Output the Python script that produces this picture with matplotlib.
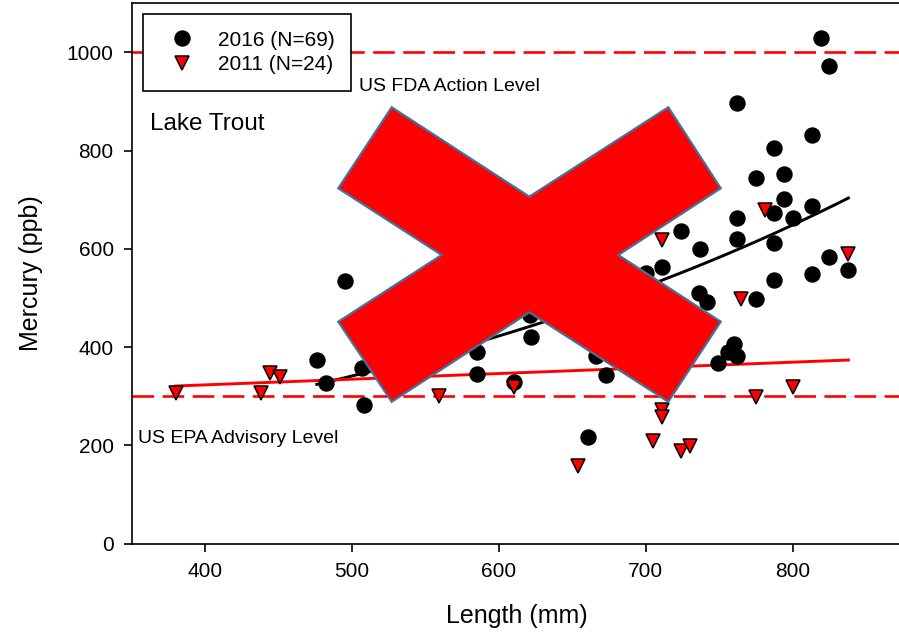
import matplotlib.pyplot as plt
import numpy as np
from matplotlib.patches import Polygon

plt.rcParams['font.family'] = ['Liberation Sans', 'DejaVu Sans']

# Lake trout, total length (mm) vs mercury (ppb)
len_2016 = [476, 482, 495, 507, 508, 585, 585, 610, 621, 622, 661, 666, 673,
            700, 711, 724, 737, 736, 742, 749, 756, 762, 760, 762, 762, 762,
            775, 775, 787, 787, 787, 787, 794, 794, 800, 813, 813, 813, 819,
            825, 825, 838]
hg_2016 = [374, 328, 534, 357, 283, 391, 346, 330, 465, 420, 217, 383, 344,
           551, 564, 637, 600, 510, 493, 368, 391, 382, 406, 898, 663, 620,
           745, 498, 805, 674, 613, 537, 753, 701, 662, 832, 687, 548, 1029,
           972, 584, 557]

len_2011 = [380, 438, 444, 451, 559, 610, 654, 705, 711, 711, 711, 724, 730,
            765, 775, 781, 800, 838]
hg_2011 = [307, 306, 348, 339, 300, 318, 158, 209, 618, 272, 257, 188, 198,
           498, 298, 680, 318, 589]

labels = ['2016 (N=69)', '2011 (N=24)']

# trend lines: 2016 exponential, 2011 linear
exp_a_2016, exp_b_2016 = 117.1, 0.00214
lin_a_2011, lin_b_2011 = 277.1, 0.1155

fda_level = 1000
epa_level = 300

fig = plt.figure(figsize=(8.99, 6.38), dpi=100)
ax = fig.add_axes([0.1465, 0.1478, 0.8577, 0.847])

ax.axhline(fda_level, color='#ff0000', lw=1.9, ls=(0, (8.2, 3.2)), zorder=1)
ax.axhline(epa_level, color='#ff0000', lw=1.9, ls=(0, (8.2, 3.2)), zorder=1)

x16 = np.linspace(min(len_2016), max(len_2016), 200)
ax.plot(x16, exp_a_2016 * np.exp(exp_b_2016 * x16), color='black', lw=2.1, zorder=2)
x11 = np.linspace(min(len_2011), max(len_2011), 200)
ax.plot(x11, lin_a_2011 + lin_b_2011 * x11, color='#ff0000', lw=2.1, zorder=2)

ax.plot(len_2016, hg_2016, 'o', ms=10.8, mfc='black', mec='black',
        label=labels[0], zorder=3)
ax.plot(len_2011, hg_2011, 'v', ms=9.5, mfc='#ff0000', mec='black', mew=1.1,
        label=labels[1], zorder=4)

ax.text(362.7, 842, 'Lake Trout', fontsize=17.5, va='baseline')
ax.text(505, 922, 'US FDA Action Level', fontsize=14, va='baseline')
ax.text(354, 204, 'US EPA Advisory Level', fontsize=14, va='baseline')

ax.set_xlim(350, 875)
ax.set_ylim(0, 1100)
ax.set_xticks([400, 500, 600, 700, 800])
ax.set_yticks([0, 200, 400, 600, 800, 1000])
ax.tick_params(direction='out', length=6, width=1.2, labelsize=15, pad=7)
for s in ax.spines.values():
    s.set_linewidth(1.2)

ax.set_xlabel('Length (mm)', fontsize=18)
ax.set_ylabel('Mercury (ppb)', fontsize=18)
ax.xaxis.set_label_coords(0.5, -0.1116)
ax.yaxis.set_label_coords(-0.1144, 0.5)

leg = ax.legend(loc='upper left', bbox_to_anchor=(0.0143, 0.9802),
                borderaxespad=0, fontsize=15, numpoints=1, fancybox=False,
                framealpha=1, edgecolor='black', borderpad=0.8,
                labelspacing=0.25, handlelength=2.2, handletextpad=0.6)
leg.get_frame().set_linewidth(1.2)

# big red cross drawn over the plot (pixel outline, y measured from top)
W, H = 899, 638
cross_px = [(391.7, 107.3), (529.3, 196.7), (668.3, 107.3), (720.7, 188.3),
            (618.3, 255.0), (720.7, 321.7), (668.3, 401.7), (529.3, 312.3),
            (391.7, 401.7), (338.3, 321.7), (441.7, 255.0), (338.3, 188.3)]
cross = Polygon([(x / W, 1 - y / H) for x, y in cross_px], closed=True,
                transform=fig.transFigure, facecolor='#ff0000',
                edgecolor='#41719c', lw=1.6, zorder=10)
fig.add_artist(cross)

fig.savefig('out.png', dpi=100)
